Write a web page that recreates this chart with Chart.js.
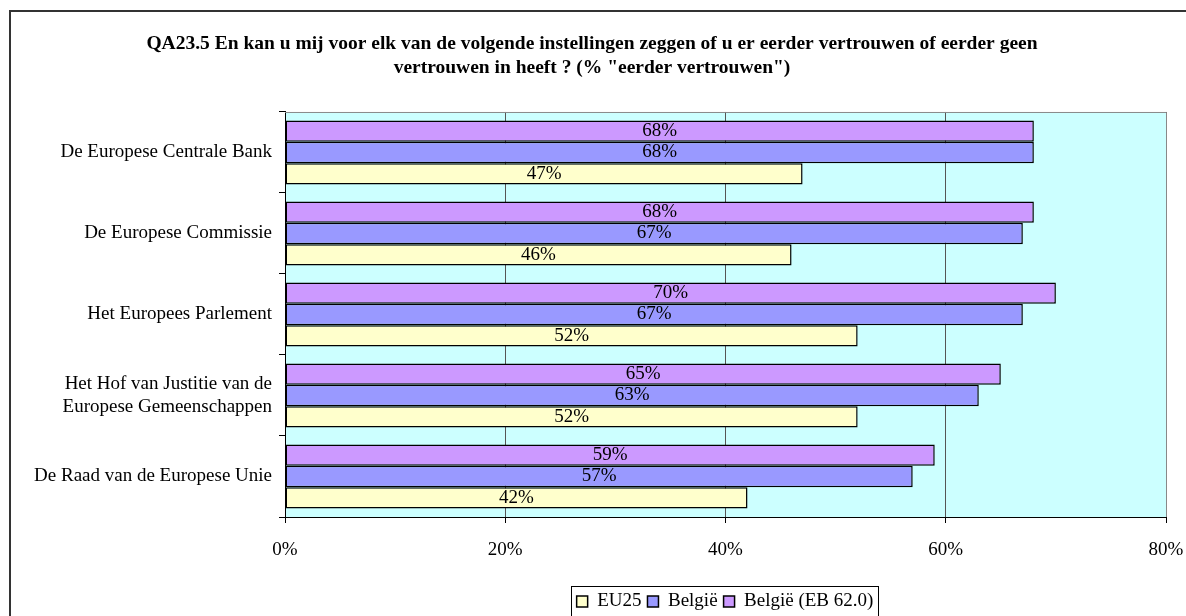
<!DOCTYPE html>
<html>
<head>
<meta charset="utf-8">
<script src="https://cdn.jsdelivr.net/npm/chart.js@4.4.1/dist/chart.umd.min.js"></script>
<style>
  html, body { margin: 0; padding: 0; background: #fff; }
  #wrap { position: relative; width: 1186px; height: 616px; }
</style>
</head>
<body>
<div id="wrap"><canvas id="chart" width="1186" height="616"></canvas></div>
<script>
const titel = [
  'QA23.5 En kan u mij voor elk van de volgende instellingen zeggen of u er eerder vertrouwen of eerder geen',
  'vertrouwen in heeft ? (% "eerder vertrouwen")'
];
const instellingen = [
  'De Europese Centrale Bank',
  'De Europese Commissie',
  'Het Europees Parlement',
  ['Het Hof van Justitie van de', 'Europese Gemeenschappen'],
  'De Raad van de Europese Unie'
];
const belgieEB62 = [68, 68, 70, 65, 59];
const belgie = [68, 67, 67, 63, 57];
const eu25 = [47, 46, 52, 52, 42];
const xTicks = [0, 20, 40, 60, 80];

const serif = '"Liberation Serif", "Times New Roman", serif';

// achtergrond, kader en legendekader
const decor = {
  id: 'decor',
  afterLayout(chart) {
    // legende staat in het origineel rechts van het midden en lager
    const lg = chart.legend;
    lg.left += 142;
    lg.right += 142;
    lg.top += 9;
    lg.bottom += 9;
    const tb = chart.titleBlock;
    if (tb) {
      tb.left += 9;
      tb.right += 9;
    }
  },
  beforeDraw(chart) {
    const { ctx, chartArea: a } = chart;
    ctx.save();
    ctx.fillStyle = '#CCFFFF';
    ctx.fillRect(a.left, a.top, a.right - a.left, a.bottom - a.top);
    ctx.restore();
  },
  afterDraw(chart) {
    const { ctx, chartArea: a } = chart;
    ctx.save();
    ctx.strokeStyle = '#888';
    ctx.lineWidth = 1;
    ctx.beginPath();
    ctx.moveTo(a.left, a.top + 0.5);
    ctx.lineTo(a.right + 0.5, a.top + 0.5);
    ctx.lineTo(a.right + 0.5, a.bottom);
    ctx.stroke();
    // buitenkader
    ctx.strokeStyle = '#333';
    ctx.lineWidth = 2;
    ctx.beginPath();
    ctx.moveTo(10, 616);
    ctx.lineTo(10, 11);
    ctx.lineTo(1186, 11);
    ctx.stroke();
    // legendekader
    const boxes = chart.legend.legendHitBoxes;
    if (boxes && boxes.length) {
      const l = Math.min(...boxes.map((b) => b.left)) - 6;
      const r = Math.max(...boxes.map((b) => b.left + b.width)) + 4;
      const t = Math.min(...boxes.map((b) => b.top)) - 6;
      ctx.strokeStyle = '#000';
      ctx.lineWidth = 1;
      ctx.strokeRect(Math.round(l) + 0.5, Math.round(t) + 0.5, Math.round(r - l), 40);
    }
    ctx.restore();
  }
};

// waarden midden in de balken
const labels = {
  id: 'labels',
  afterDatasetsDraw(chart) {
    const { ctx } = chart;
    ctx.save();
    ctx.font = '19px ' + serif;
    ctx.fillStyle = '#000';
    ctx.textAlign = 'center';
    ctx.textBaseline = 'middle';
    chart.data.datasets.forEach((ds, i) => {
      chart.getDatasetMeta(i).data.forEach((bar, j) => {
        const x = (bar.x + bar.base) / 2;
        ctx.fillText(ds.data[j] + '%', x, bar.y);
      });
    });
    ctx.restore();
  }
};

new Chart(document.getElementById('chart'), {
  type: 'bar',
  data: {
    labels: instellingen,
    datasets: [
      { label: 'België (EB 62.0)', data: belgieEB62, backgroundColor: '#CC99FF', borderColor: '#000', borderWidth: 1.5, borderSkipped: false },
      { label: 'België', data: belgie, backgroundColor: '#9999FF', borderColor: '#000', borderWidth: 1.5, borderSkipped: false },
      { label: 'EU25', data: eu25, backgroundColor: '#FFFFCC', borderColor: '#000', borderWidth: 1.5, borderSkipped: false }
    ]
  },
  options: {
    indexAxis: 'y',
    responsive: false,
    animation: false,
    devicePixelRatio: 1,
    categoryPercentage: 0.79,
    barPercentage: 1,
    layout: { padding: { left: 0, right: 20, top: 0, bottom: 4 } },
    plugins: {
      tooltip: { enabled: false },
      title: {
        display: true,
        text: titel,
        color: '#000',
        font: { family: serif, size: 19.5, weight: 'bold', lineHeight: 1.23 },
        padding: { top: 32, bottom: 32 }
      },
      legend: {
        position: 'bottom',
        reverse: true,
        labels: {
          color: '#000',
          font: { family: serif, size: 19 },
          boxWidth: 11,
          boxHeight: 11,
          padding: 6
        }
      }
    },
    scales: {
      x: {
        min: 0,
        max: 80,
        afterBuildTicks(scale) {
          scale.ticks = xTicks.map((v) => ({ value: v }));
        },
        ticks: {
          color: '#000',
          font: { family: serif, size: 19 },
          padding: 16,
          maxRotation: 0,
          callback: (v) => v + '%'
        },
        grid: { color: '#555', tickColor: '#000', tickLength: 6, lineWidth: 1 },
        border: { color: '#000', width: 1 },
        afterFit(scale) {
          scale.height = 60;
          scale.paddingLeft = 0;
          scale.paddingRight = 0;
        }
      },
      y: {
        ticks: {
          color: '#000',
          font: { family: serif, size: 19, lineHeight: 1.18 },
          padding: 7
        },
        grid: { drawOnChartArea: false, tickColor: '#000', tickLength: 6 },
        border: { color: '#000', width: 1 },
        afterFit(scale) { scale.width = 285; }
      }
    }
  },
  plugins: [decor, labels]
});
</script>
</body>
</html>
